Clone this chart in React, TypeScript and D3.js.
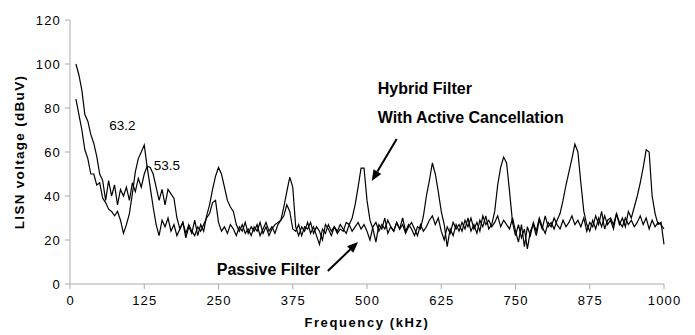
import React from 'react';
import * as d3 from 'd3';

// frequency grid (kHz), 5 kHz steps
const freqKHz = [
  10, 15, 20, 25, 30, 35, 40, 45, 50, 55,
  60, 65, 70, 75, 80, 85, 90, 95, 100, 105,
  110, 115, 120, 125, 130, 135, 140, 145, 150, 155,
  160, 165, 170, 175, 180, 185, 190, 195, 200, 205,
  210, 215, 220, 225, 230, 235, 240, 245, 250, 255,
  260, 265, 270, 275, 280, 285, 290, 295, 300, 305,
  310, 315, 320, 325, 330, 335, 340, 345, 350, 355,
  360, 365, 370, 375, 380, 385, 390, 395, 400, 405,
  410, 415, 420, 425, 430, 435, 440, 445, 450, 455,
  460, 465, 470, 475, 480, 485, 490, 495, 500, 505,
  510, 515, 520, 525, 530, 535, 540, 545, 550, 555,
  560, 565, 570, 575, 580, 585, 590, 595, 600, 605,
  610, 615, 620, 625, 630, 635, 640, 645, 650, 655,
  660, 665, 670, 675, 680, 685, 690, 695, 700, 705,
  710, 715, 720, 725, 730, 735, 740, 745, 750, 755,
  760, 765, 770, 775, 780, 785, 790, 795, 800, 805,
  810, 815, 820, 825, 830, 835, 840, 845, 850, 855,
  860, 865, 870, 875, 880, 885, 890, 895, 900, 905,
  910, 915, 920, 925, 930, 935, 940, 945, 950, 955,
  960, 965, 970, 975, 980, 985, 990, 995, 1000,
];

// trace with the harmonic peaks (arrow "Hybrid Filter")
const hybridDbuv = [
  84, 77, 70, 61, 57, 50, 50, 45, 46, 39,
  37, 34, 33, 31, 33, 29, 23, 27, 32, 41,
  51, 57, 60, 63.2, 53, 44, 35, 27, 22, 29,
  26, 30, 24, 27, 22, 25, 28, 21, 26, 23,
  29, 22, 27, 24, 31, 36, 43, 49, 53, 50,
  44, 38, 35, 33, 27, 24, 27, 23, 25, 22,
  26, 24, 28, 23, 26, 22, 25, 27, 28, 29,
  35, 42, 48.6, 44, 26, 22, 26, 24, 28, 23,
  26, 22, 18, 25, 23, 27, 24, 26, 23, 25,
  24, 28, 27, 30, 36, 44, 52.7, 52.7, 38, 29,
  25, 19, 27, 25, 30, 23, 26, 24, 28, 25,
  30, 24, 27, 25, 22, 26, 25, 31, 40, 47,
  55, 50, 42, 33, 27, 17, 25, 22, 27, 24,
  28, 25, 30, 24, 27, 23, 29, 26, 31, 25,
  27, 33, 45, 53, 57.7, 55, 42, 28, 22, 27,
  21, 25, 16, 24, 27, 22, 29, 25, 31, 26,
  28, 25, 29, 32, 38, 45, 51, 57, 63.6, 60,
  46, 33, 27, 24, 29, 25, 30, 26, 31, 27,
  29, 25, 32, 27, 30, 26, 33, 30, 35, 40,
  46, 53, 61, 60, 40, 32, 27, 28, 18,
];

// flatter trace (arrow "Passive Filter")
const passiveDbuv = [
  100, 95, 88, 77, 74, 68, 64, 58, 50, 47,
  38, 47, 40, 45, 36, 43, 40, 44, 38, 46,
  42, 48, 44, 50, 53.5, 53, 50, 44, 38, 43,
  36, 43, 41, 39, 30, 25, 28, 23, 27, 24,
  22, 26, 24, 27, 30, 32, 37, 38, 28, 24,
  26, 23, 27, 25, 22, 26, 24, 28, 23, 26,
  24, 27, 22, 25, 28, 24, 26, 23, 27, 29,
  31, 36, 33, 25, 24, 27, 22, 26, 25, 28,
  23, 26, 24, 20, 27, 25, 22, 26, 24, 27,
  25, 23, 27, 24, 26, 28, 25, 27, 24, 20,
  26, 28, 24, 27, 25, 29, 26, 24, 28, 25,
  27, 23, 26, 28, 25, 22, 27, 24, 26, 29,
  31, 27, 30, 24, 20, 26, 23, 28, 25, 27,
  24, 29, 26, 30, 25, 28, 24, 31, 27, 29,
  26, 28, 31, 26, 29, 27, 25, 30, 24, 19,
  27, 17, 26, 22, 28, 24, 30, 26, 23, 28,
  26, 30, 27, 25, 29, 26, 28, 31, 27, 29,
  26, 30, 24, 28, 26, 31, 27, 33, 25, 29,
  30, 27, 32, 28, 26, 30, 27, 29, 26, 28,
  31, 27, 30, 25, 29, 26, 28, 27, 25,
];

const xTicks = [0, 125, 250, 375, 500, 625, 750, 875, 1000];
const yTicks = [0, 20, 40, 60, 80, 100, 120];

const FONT = '"Liberation Sans", Arial, sans-serif';

export default function App() {
  const width = 695;
  const height = 335;
  const x = d3.scaleLinear().domain([0, 1000]).range([70, 664]);
  const y = d3.scaleLinear().domain([0, 120]).range([284, 20]);

  const line = d3
    .line<number>()
    .x((_, i) => x(freqKHz[i]))
    .y(d => y(d));

  const arrow = (x1: number, y1: number, x2: number, y2: number) => {
    const a = Math.atan2(y2 - y1, x2 - x1);
    const len = 11;
    const w = 4.5;
    const bx = x2 - len * Math.cos(a);
    const by = y2 - len * Math.sin(a);
    const px = -Math.sin(a) * w;
    const py = Math.cos(a) * w;
    return (
      <g>
        <line x1={x1} y1={y1} x2={bx} y2={by} stroke="#000" strokeWidth={2} />
        <path d={`M${x2},${y2}L${bx + px},${by + py}L${bx - px},${by - py}Z`} fill="#000" />
      </g>
    );
  };

  return (
    <svg
      width={width}
      height={height}
      style={{ position: 'absolute', left: 0, top: 0, background: '#fff' }}
      fontFamily={FONT}
    >
      {/* axes */}
      <line x1={x(0)} x2={x(0)} y1={y(0)} y2={y(120)} stroke="#aaa" />
      <line x1={x(0)} x2={x(1000)} y1={y(0)} y2={y(0)} stroke="#aaa" />
      {yTicks.map(t => (
        <g key={'y' + t}>
          <line x1={x(0) - 5} x2={x(0)} y1={y(t)} y2={y(t)} stroke="#aaa" />
          <text x={x(0) - 9} y={y(t)} dy="0.36em" textAnchor="end" fontSize={13} letterSpacing={1.2}>
            {t}
          </text>
        </g>
      ))}
      {xTicks.map(t => (
        <g key={'x' + t}>
          <line x1={x(t)} x2={x(t)} y1={y(0)} y2={y(0) + 5} stroke="#aaa" />
          <text x={x(t) + 0.6} y={y(0) + 21} textAnchor="middle" fontSize={13} letterSpacing={1.2}>
            {t}
          </text>
        </g>
      ))}
      <text
        x={(x(0) + x(1000)) / 2}
        y={327}
        textAnchor="middle"
        fontSize={13}
        fontWeight="bold"
        letterSpacing={1.6}
      >
        Frequency (kHz)
      </text>
      <text
        transform={`translate(24,${(y(0) + y(120)) / 2}) rotate(-90)`}
        x={0}
        y={0}
        textAnchor="middle"
        fontSize={13.5}
        fontWeight="bold"
        letterSpacing={1.3}
      >
        LISN voltage (dBuV)
      </text>

      {/* traces */}
      <path d={line(passiveDbuv) || ''} fill="none" stroke="#000" strokeWidth={1.2} />
      <path d={line(hybridDbuv) || ''} fill="none" stroke="#000" strokeWidth={1.2} />

      {/* annotations */}
      <text x={x(66)} y={y(70)} fontSize={13.5}>63.2</text>
      <text x={x(141)} y={y(51.8)} fontSize={13.5}>53.5</text>
      <text x={x(518)} y={y(86.4)} fontSize={16} fontWeight="bold">Hybrid Filter</text>
      <text x={x(518)} y={y(73.2)} fontSize={16} fontWeight="bold">With Active Cancellation</text>
      <text x={x(247)} y={y(4.1)} fontSize={16} fontWeight="bold">Passive Filter</text>
      {arrow(x(550), y(65.9), x(508), y(46.8))}
      {arrow(x(434), y(5.9), x(485), y(19.1))}
    </svg>
  );
}
